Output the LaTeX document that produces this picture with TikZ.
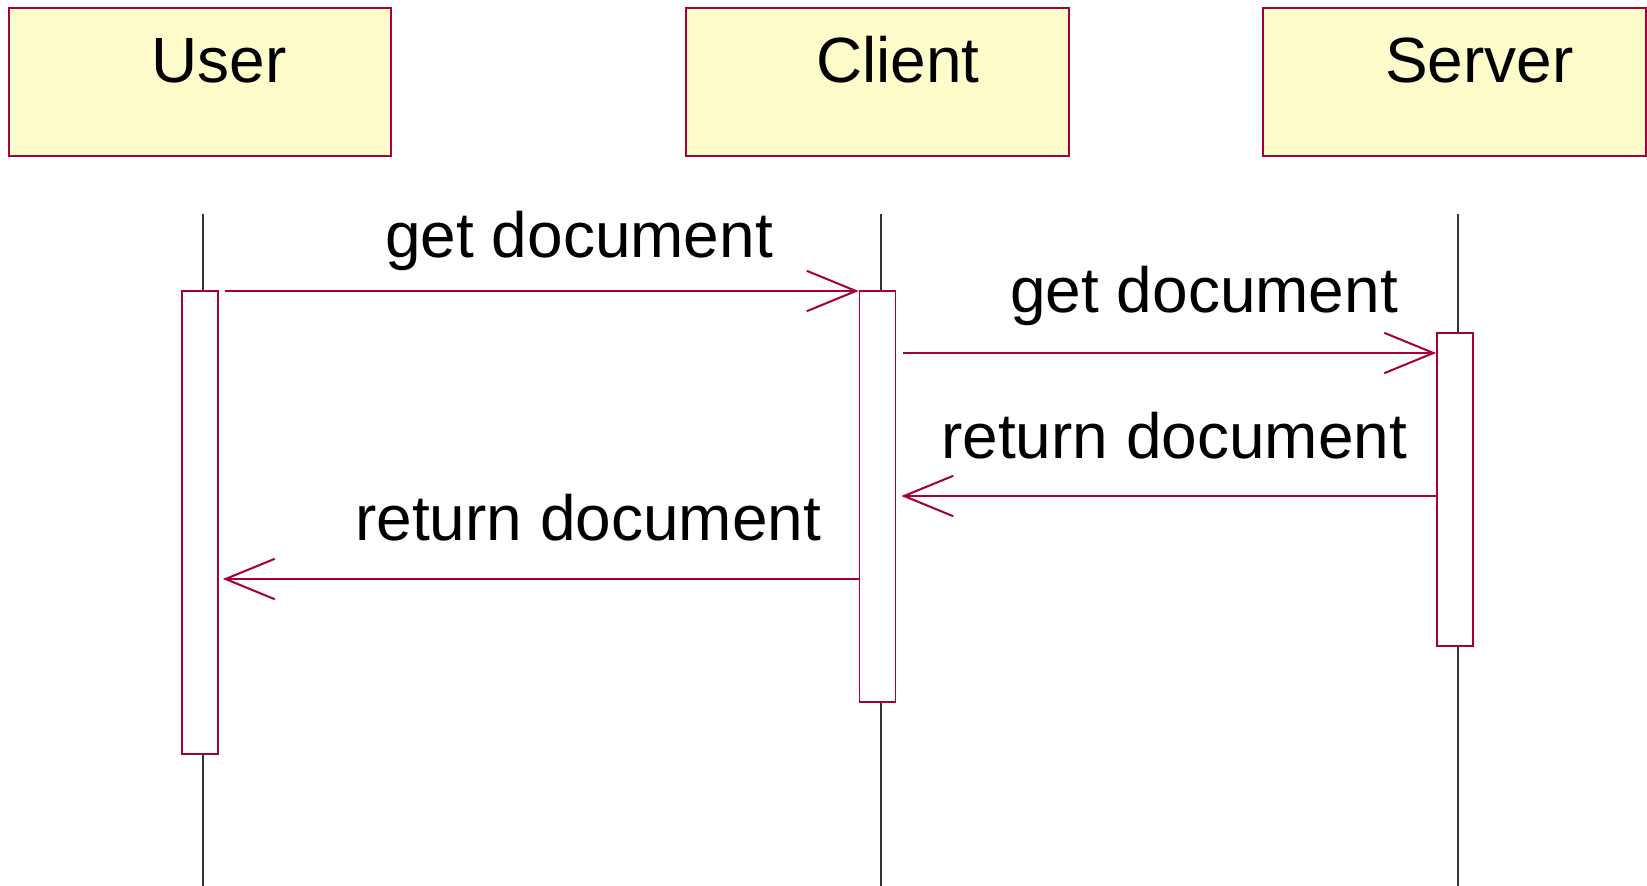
\documentclass[tikz,border=0pt]{standalone}
\usepackage{fontspec}
\setmainfont{Liberation Sans}
\usetikzlibrary{arrows.meta,calc,positioning}

\begin{document}
\begin{tikzpicture}[
            x=0.02cm,y=-0.02cm,
            every node/.style={font=\fontsize{36.4}{40}\selectfont},
            actor/.style={draw=umlred,fill=umlyel,line width=1.1pt,
                minimum width=7.66cm,minimum height=2.96cm,inner sep=0pt},
            act/.style={draw=umlred,fill=white,line width=1pt,
                minimum width=0.72cm,inner sep=0pt},
            life/.style={draw=black!80,line width=0.8pt},
            msg/.style={draw=umlred,line width=1.15pt,
                -{Straight Barb[length=28pt,width=23pt]}},
            lbl/.style={anchor=base west,inner sep=0pt}
        ]
            \definecolor{umlred}{HTML}{A80036}
            \definecolor{umlyel}{HTML}{FEFCCA}

            \useasboundingbox (0,0) rectangle (1647,886);

            \node (user)   [actor] at (200,82)    {};
            \node (client) [actor] at (877.5,82)  {};
            \node (server) [actor] at (1454.5,82) {};
            \node [anchor=base] at ($(user.north)+(19,75)$)     {User};
            \node [anchor=base] at ($(client.north)+(20.5,75)$) {Client};
            \node [anchor=base] at ($(server.north)+(25,75)$)   {Server};

            \draw [life] (203,214)  -- (203,886);
            \draw [life] (881,214)  -- (881,886);
            \draw [life] (1458,214) -- (1458,886);

            \node (uact) [act,minimum height=9.26cm] at (200,522.5)   {};
            \node (cact) [act,minimum height=8.22cm] at (877.5,496.5) {};
            \node (sact) [act,minimum height=6.26cm] at (1455,489.5)  {};

            \coordinate (r1) at (0,291);
            \coordinate (r2) at (0,353);
            \coordinate (r3) at (0,496);
            \coordinate (r4) at (0,579);

            \draw [msg] ($(uact.east |- r1)+(6,0)$) -- (cact.west |- r1);
            \draw [msg] ($(cact.east |- r2)+(7,0)$) -- (sact.west |- r2);
            \draw [msg] (sact.west |- r3) -- ($(cact.east |- r3)+(5,0)$);
            \draw [msg] (cact.west |- r4) -- ($(uact.east |- r4)+(4,0)$);

            \node [lbl] at (385,257)  {get document};
            \node [lbl] at (1010,312) {get document};
            \node [lbl] at (941,458)  {return document};
            \node [lbl] at (355,540)  {return document};
        \end{tikzpicture}
\end{document}
